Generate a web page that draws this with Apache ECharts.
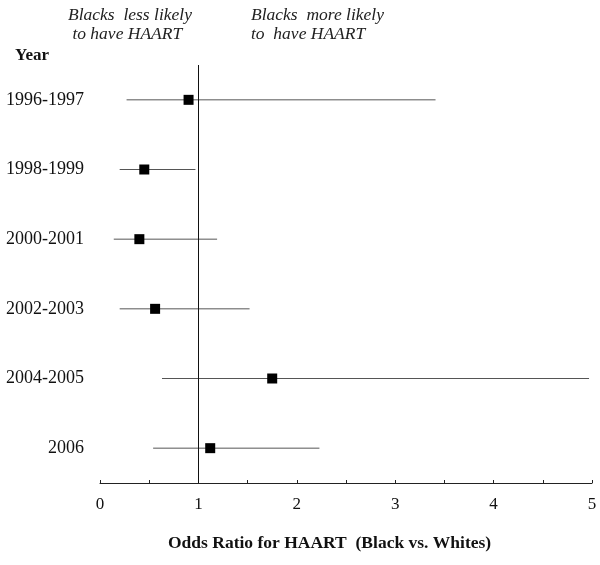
<!DOCTYPE html>
<html>
<head>
<meta charset="UTF-8">
<title>Odds Ratio for HAART</title>
<script src="https://cdn.jsdelivr.net/npm/echarts@6/dist/echarts.min.js"></script>
<style>
  html, body { margin: 0; padding: 0; background: #fff; }
  #main { width: 600px; height: 565px; }
</style>
</head>
<body>
<div id="main"></div>
<script>
// data
const years = ['1996-1997', '1998-1999', '2000-2001', '2002-2003', '2004-2005', '2006'];
const oddsRatio = [0.90, 0.45, 0.40, 0.56, 1.75, 1.12];
const lowerCI = [0.27, 0.20, 0.14, 0.20, 0.63, 0.54];
const upperCI = [3.41, 0.97, 1.19, 1.52, 4.97, 2.23];
const xTicks = [0, 1, 2, 3, 4, 5];

const serif = '"Liberation Serif", "DejaVu Serif", serif';
const chart = echarts.init(document.getElementById('main'));

const option = {
  animation: false,
  backgroundColor: '#fff',
  grid: { left: 100, right: 8, top: 65, bottom: 82 },
  xAxis: {
    type: 'value',
    min: 0,
    max: 5,
    interval: 0.5,
    axisLine: { show: true, lineStyle: { color: '#222', width: 1 } },
    axisTick: { show: true, inside: true, length: 3, lineStyle: { color: '#222' } },
    splitLine: { show: false },
    axisLabel: {
      margin: 13,
      fontFamily: serif,
      fontSize: 17,
      color: '#111',
      formatter: v => (xTicks.indexOf(v) >= 0 ? String(v) : '')
    }
  },
  yAxis: {
    type: 'category',
    data: years,
    inverse: true,
    axisLine: { show: false },
    axisTick: { show: false },
    splitLine: { show: false },
    axisLabel: {
      margin: 16,
      fontFamily: serif,
      fontSize: 18,
      color: '#111'
    }
  },
  graphic: [
    { type: 'text', left: 15, top: 47,
      style: { text: 'Year', font: 'bold 17px ' + serif, fill: '#111' } },
    { type: 'text', left: 68, top: 6,
      style: { text: 'Blacks  less likely\n to have HAART', font: 'italic 17.5px ' + serif,
               fill: '#222', lineHeight: 19 } },
    { type: 'text', left: 251, top: 6,
      style: { text: 'Blacks  more likely\nto  have HAART', font: 'italic 17.5px ' + serif,
               fill: '#222', lineHeight: 19 } },
    { type: 'text', left: 168, top: 534,
      style: { text: 'Odds Ratio for HAART  (Black vs. Whites)', font: 'bold 17.5px ' + serif, fill: '#111' } }
  ],
  series: [
    {
      type: 'custom',
      z: 2,
      renderItem: function (params, api) {
        const p1 = api.coord([api.value(0), api.value(2)]);
        const p2 = api.coord([api.value(1), api.value(2)]);
        return {
          type: 'line',
          shape: { x1: p1[0], y1: p1[1], x2: p2[0], y2: p2[1] },
          style: { stroke: '#555', lineWidth: 1 }
        };
      },
      encode: { x: [0, 1], y: 2 },
      data: years.map((y, i) => [lowerCI[i], upperCI[i], y])
    },
    {
      type: 'scatter',
      z: 5,
      symbol: 'rect',
      symbolSize: 10,
      itemStyle: { color: '#000', opacity: 1 },
      data: years.map((y, i) => [oddsRatio[i], y]),
      markLine: {
        silent: true,
        symbol: 'none',
        label: { show: false },
        lineStyle: { color: '#111', width: 1, type: 'solid' },
        data: [{ xAxis: 1 }]
      }
    }
  ]
};

chart.setOption(option);
</script>
</body>
</html>
